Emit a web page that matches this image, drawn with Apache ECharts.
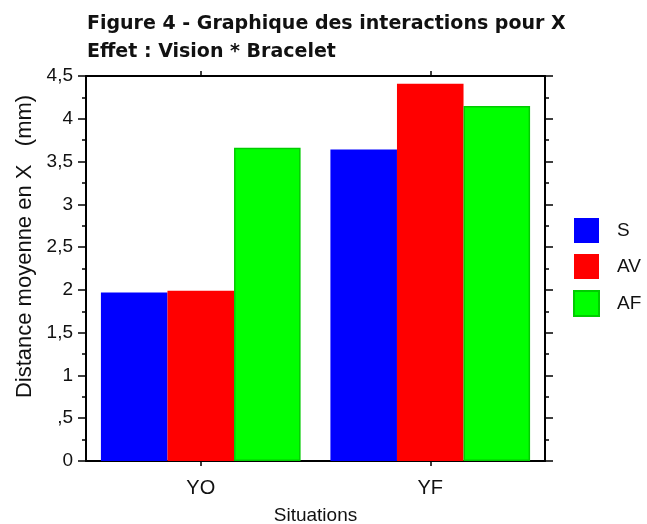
<!DOCTYPE html>
<html><head><meta charset="utf-8">
<script src="https://cdn.jsdelivr.net/npm/echarts@6/dist/echarts.min.js"></script>
<style>html,body{margin:0;padding:0;background:#fff}#c{width:647px;height:524px}</style>
</head><body><div id="c"></div>
<script>
const categories = ['YO', 'YF'];
const seriesNames = ['S', 'AV', 'AF'];
const valuesS = [1.97, 3.64];
const valuesAV = [1.99, 4.41];
const valuesAF = [3.66, 4.15];
const yTickLabels = {'0':'0','0.5':',5','1':'1','1.5':'1,5','2':'2','2.5':'2,5','3':'3','3.5':'3,5','4':'4','4.5':'4,5'};

const font = 'Liberation Sans, Arial, sans-serif';
const titleFont = 'DejaVu Sans, Liberation Sans, sans-serif';
const chart = echarts.init(document.getElementById('c'), null, {renderer:'canvas'});
const axisLine = {show:true, onZero:false, lineStyle:{color:'#000', width:2}};
chart.setOption({
  animation:false,
  backgroundColor:'#fff',
  title:[
    {text:'Figure 4 - Graphique des interactions pour X', left:87, top:15, padding:0,
     textStyle:{fontFamily:titleFont, fontWeight:'bold', fontSize:19, color:'#111'}},
    {text:'Effet : Vision * Bracelet', left:87, top:43, padding:0,
     textStyle:{fontFamily:titleFont, fontWeight:'bold', fontSize:19, color:'#111'}}
  ],
  legend:{
    orient:'vertical', left:573, top:218, padding:0, itemWidth:25, itemHeight:25, itemGap:11,
    data:seriesNames, icon:'rect',
    textStyle:{fontFamily:font, fontSize:19, color:'#111', padding:[0,0,0,13]}
  },
  grid:{left:86, right:102, top:76, bottom:63, show:false, outerBoundsMode:'none', containLabel:false},
  xAxis:[
    {type:'category', data:categories, position:'bottom',
     axisLine:axisLine, axisTick:{show:true, alignWithLabel:true, length:5, lineStyle:{color:'#000', width:1.5}},
     axisLabel:{fontFamily:font, fontSize:20, color:'#111', margin:17},
     name:'Situations', nameLocation:'middle', nameGap:45,
     nameTextStyle:{fontFamily:font, fontSize:19, color:'#111'}},
    {type:'category', data:categories, position:'top',
     axisLine:axisLine, axisTick:{show:true, alignWithLabel:true, length:5, lineStyle:{color:'#000', width:1.5}},
     axisLabel:{show:false}}
  ],
  yAxis:[
    {type:'value', min:0, max:4.5, interval:0.5, position:'left',
     axisLine:axisLine, splitLine:{show:false},
     axisTick:{show:true, length:8, lineStyle:{color:'#000', width:1.5}},
     minorTick:{show:true, splitNumber:2, length:4, lineStyle:{color:'#000', width:1.5}},
     axisLabel:{fontFamily:font, fontSize:19, color:'#111', margin:13,
       formatter:v=>yTickLabels[String(v)] ?? String(v)},
     name:'Distance moyenne en X   (mm)', nameLocation:'middle', nameGap:50, nameRotate:90,
     nameTextStyle:{fontFamily:font, fontSize:22, color:'#111', padding:[0,0,0,44]}},
    {type:'value', min:0, max:4.5, interval:0.5, position:'right',
     axisLine:axisLine, splitLine:{show:false},
     axisTick:{show:true, length:8, lineStyle:{color:'#000', width:1.5}},
     minorTick:{show:true, splitNumber:2, length:4, lineStyle:{color:'#000', width:1.5}},
     axisLabel:{show:false}}
  ],
  series:[
    {name:'S', type:'bar', data:valuesS, barGap:'0%', barCategoryGap:'13%',
     itemStyle:{color:'#0000ff'}},
    {name:'AV', type:'bar', data:valuesAV, barGap:'0%', barCategoryGap:'13%',
     itemStyle:{color:'#ff0000'}},
    {name:'AF', type:'bar', data:valuesAF, barGap:'0%', barCategoryGap:'13%',
     itemStyle:{color:'#00ff00', borderColor:'#00cc00', borderWidth:1.5}}
  ]
});
</script></body></html>
